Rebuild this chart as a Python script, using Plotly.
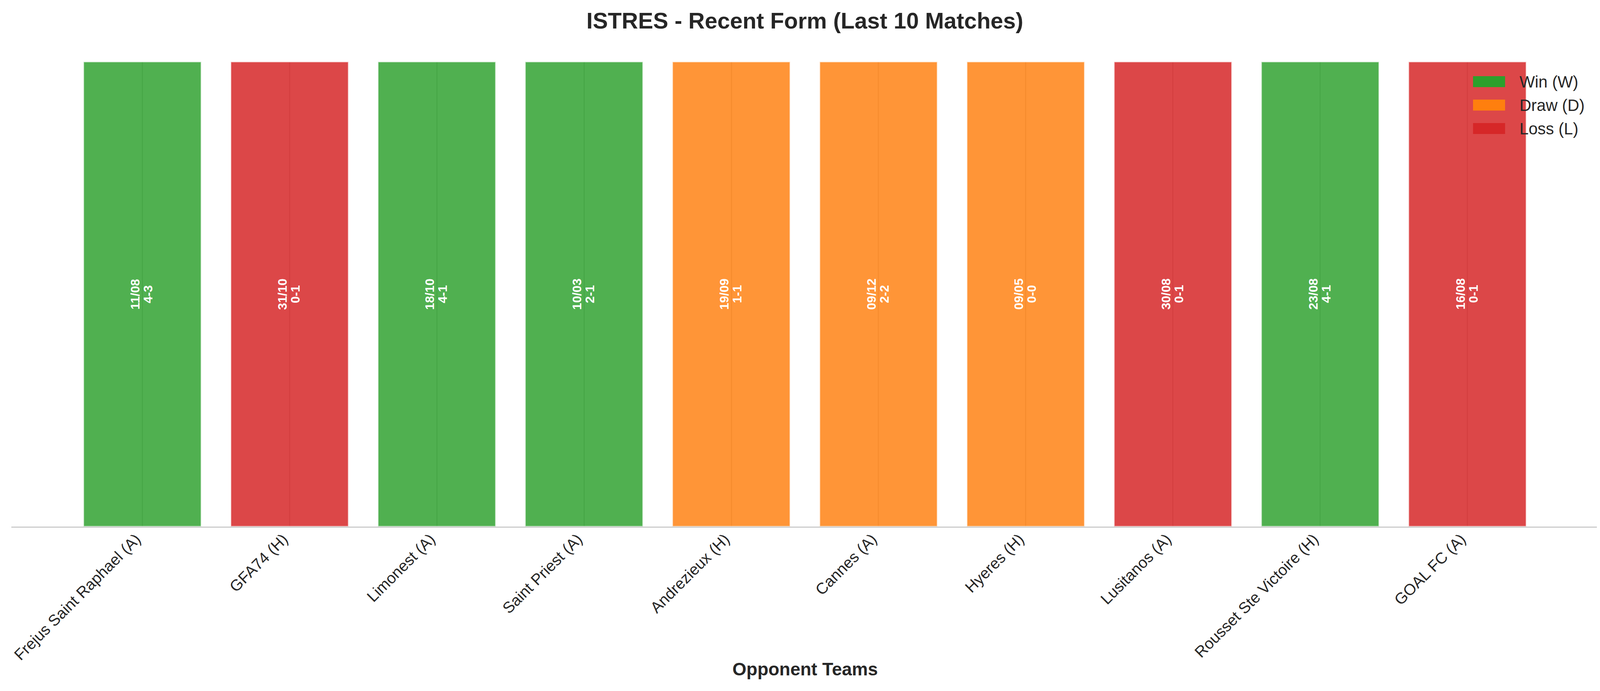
import plotly.graph_objects as go

# ========== DATA ==========
opponents = ["Frejus Saint Raphael (A)", "GFA74 (H)", "Limonest (A)", "Saint Priest (A)",
             "Andrezieux (H)", "Cannes (A)", "Hyeres (H)", "Lusitanos (A)",
             "Rousset Ste Victoire (H)", "GOAL FC (A)"]
dates = ["11/08", "31/10", "18/10", "10/03", "19/09", "09/12", "09/05", "30/08", "23/08", "16/08"]
scores = ["4-3", "0-1", "4-1", "2-1", "1-1", "2-2", "0-0", "0-1", "4-1", "0-1"]
results = ["W", "L", "W", "W", "D", "D", "D", "L", "W", "L"]
bar_height = [1, 1, 1, 1, 1, 1, 1, 1, 1, 1]

result_order = ["W", "D", "L"]
result_names = {"W": "Win (W)", "D": "Draw (D)", "L": "Loss (L)"}
result_colors = {"W": "#2ca02c", "D": "#ff7f0e", "L": "#d62728"}
result_fill = {"W": "rgba(44,160,44,0.83)", "D": "rgba(255,127,14,0.83)", "L": "rgba(214,39,40,0.85)"}

FONT = "Liberation Sans, Arial, sans-serif"
DARK = "#262626"

# the page body has an 8px margin on every side; keep the figure inside the window
W, H = 4121 - 16, 1769 - 16

fig = go.Figure()

# --- bars, one trace per result ---
for res in result_order:
    idx = [i for i, r in enumerate(results) if r == res]
    fig.add_trace(go.Bar(
        x=[opponents[i] for i in idx],
        y=[bar_height[i] for i in idx],
        marker=dict(color=result_fill[res], line=dict(color="rgba(255,255,255,0.7)", width=3)),
        width=0.8,
        showlegend=False,
        hoverinfo="skip",
    ))

annotations = []

# --- date / score inside each bar (two rotated lines, tight spacing) ---
for i in range(len(opponents)):
    for txt, shift in [(dates[i], -18), (scores[i], 15)]:
        annotations.append(dict(
            x=opponents[i], y=bar_height[i] / 2, xref="x", yref="y",
            text=txt, textangle=-90, xshift=shift,
            showarrow=False, xanchor="center", yanchor="middle",
            font=dict(family=FONT, size=32, color="white", weight="bold"),
        ))

# --- legend drawn by hand (wide colour patches like matplotlib) ---
shapes = []
for k, res in enumerate(result_order):
    top = 0.96891 - k * 0.05042
    shapes.append(dict(
        type="rect", xref="x domain", yref="y domain",
        x0=0.92099, x1=0.94117, y0=top - 0.02353, y1=top,
        fillcolor=result_colors[res], line=dict(width=0),
    ))
    annotations.append(dict(
        text=result_names[res], xref="x domain", yref="y domain",
        x=0.94979, y=top - 0.01177, xanchor="left", yanchor="middle",
        showarrow=False, font=dict(size=41.7, color=DARK),
    ))

annotations.append(dict(
    text="<b>Opponent Teams</b>",
    xref="paper", yref="paper",
    x=0.5, y=-(1713 - 1348) / 1190,
    xanchor="center", yanchor="middle",
    showarrow=False,
    font=dict(size=46, color=DARK),
))

fig.update_layout(
    width=W,
    height=H,
    barmode="overlay",
    showlegend=False,
    plot_bgcolor="white",
    paper_bgcolor="white",
    font=dict(family=FONT, color=DARK),
    margin=dict(l=21, r=21, t=150, b=413),
    title=dict(
        text="<b>ISTRES - Recent Form (Last 10 Matches)</b>",
        font=dict(size=58, color=DARK),
        x=0.5, xanchor="center",
        y=1 - 45 / H, yanchor="middle",
    ),
    xaxis=dict(
        categoryorder="array", categoryarray=opponents,
        range=[-0.89, 9.89],
        tickangle=-45,
        tickfont=dict(size=40, color=DARK),
        showgrid=True, gridcolor="#cccccc", gridwidth=3,
        showline=True, linecolor="#cccccc", linewidth=3,
        ticks="", ticklabelstandoff=-10, ticklabelshift=-16,
        automargin=False,
    ),
    yaxis=dict(
        range=[0, 1],
        showticklabels=False, showgrid=False, zeroline=False, showline=False,
        ticks="",
    ),
    shapes=shapes,
    annotations=annotations,
)

fig.write_html("out.html")
